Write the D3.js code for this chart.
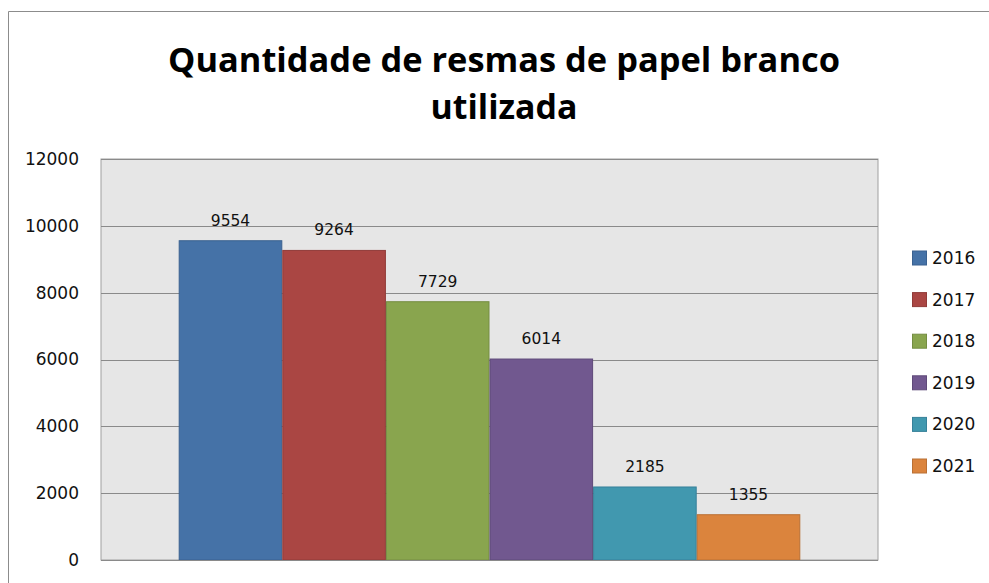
<!DOCTYPE html>
<html>
<head>
<meta charset="utf-8">
<script src="https://cdn.jsdelivr.net/npm/d3@7"></script>
<style>
  body { margin: 0; background: #fff; }
  svg { display: block; }
</style>
</head>
<body>
<script>
const years = ["2016", "2017", "2018", "2019", "2020", "2021"];
const values = [9554, 9264, 7729, 6014, 2185, 1355];
const colors = ["#4572A7", "#AA4643", "#89A54E", "#71588F", "#4198AF", "#DB843D"];
const strokes = ["#3A6190", "#913B38", "#748D42", "#5F4A79", "#37819A", "#BA7034"];
const yTicks = [0, 2000, 4000, 6000, 8000, 10000, 12000];
const titleLines = ["Quantidade de resmas de papel branco", "utilizada"];

const w = 989, h = 583;
const plot = { left: 101, right: 878, top: 159, bottom: 560 };

const svg = d3.select("body").append("svg")
  .attr("width", w)
  .attr("height", h);

// outer chart frame
svg.append("path")
  .attr("d", `M8.5,${h} V11.5 H${w}`)
  .attr("fill", "none")
  .attr("stroke", "#8c8c8c")
  .attr("stroke-width", 1);

// title, two lines
const titleWidths = [672, 147];
titleLines.forEach((line, i) => {
  svg.append("text")
    .attr("x", 504)
    .attr("y", 72 + i * 47)
    .attr("text-anchor", "middle")
    .attr("textLength", titleWidths[i])
    .attr("lengthAdjust", "spacingAndGlyphs")
    .style("font-family", "'Open Sans', sans-serif")
    .style("font-weight", "bold")
    .style("font-size", "34px")
    .attr("fill", "#000")
    .text(line);
});

const yScale = d3.scaleLinear()
  .domain([0, 12000])
  .range([plot.bottom, plot.top]);

const xScale = d3.scaleBand()
  .domain(years)
  .range([plot.left, plot.right])
  .paddingInner(0)
  .paddingOuter(0.75);

// plot background
svg.append("rect")
  .attr("x", plot.left)
  .attr("y", plot.top)
  .attr("width", plot.right - plot.left)
  .attr("height", plot.bottom - plot.top)
  .attr("fill", "#E6E6E6")
  .attr("stroke", "#a0a0a0");

// gridlines
svg.append("g")
  .selectAll("line")
  .data(yTicks)
  .enter()
  .append("line")
  .attr("x1", plot.left)
  .attr("x2", plot.right)
  .attr("y1", d => Math.round(yScale(d)) + 0.5)
  .attr("y2", d => Math.round(yScale(d)) + 0.5)
  .attr("stroke", "#8a8a8a")
  .attr("stroke-width", 1);

// y axis labels
const yAxis = d3.axisLeft(yScale)
  .tickValues(yTicks)
  .tickFormat(d3.format("d"))
  .tickSize(0)
  .tickPadding(22);

svg.append("g")
  .attr("transform", `translate(${plot.left}, 0)`)
  .call(yAxis)
  .call(g => g.select(".domain").remove())
  .call(g => g.selectAll("text")
    .style("font-family", "'DejaVu Sans', sans-serif")
    .style("font-size", "17px")
    .attr("fill", "#111"));

// bars
svg.append("g")
  .selectAll("rect")
  .data(values)
  .enter()
  .append("rect")
  .attr("x", (d, i) => xScale(years[i]) + 0.5)
  .attr("y", d => yScale(d))
  .attr("width", xScale.bandwidth() - 1)
  .attr("height", d => plot.bottom - yScale(d))
  .attr("fill", (d, i) => colors[i])
  .attr("stroke", (d, i) => strokes[i])
  .attr("stroke-width", 1);

// axis line at zero
svg.append("line")
  .attr("x1", plot.left)
  .attr("x2", plot.right)
  .attr("y1", plot.bottom + 0.5)
  .attr("y2", plot.bottom + 0.5)
  .attr("stroke", "#8a8a8a");

// value labels
svg.append("g")
  .selectAll("text")
  .data(values)
  .enter()
  .append("text")
  .attr("x", (d, i) => xScale(years[i]) + xScale.bandwidth() / 2)
  .attr("y", d => yScale(d) - 15)
  .attr("text-anchor", "middle")
  .style("font-family", "'DejaVu Sans', sans-serif")
  .style("font-size", "15.5px")
  .attr("fill", "#111")
  .text(d => d);

// legend
const legend = svg.append("g")
  .attr("transform", "translate(912, 0)");

const legendY = d3.scalePoint()
  .domain(years)
  .range([258, 466]);

years.forEach((yr, i) => {
  legend.append("rect")
    .attr("x", 0.5)
    .attr("y", legendY(yr) - 7)
    .attr("width", 14)
    .attr("height", 14)
    .attr("fill", colors[i])
    .attr("stroke", strokes[i]);

  legend.append("text")
    .attr("x", 20)
    .attr("y", legendY(yr) + 6)
    .style("font-family", "'DejaVu Sans', sans-serif")
    .style("font-size", "17px")
    .attr("fill", "#111")
    .text(yr);
});
</script>
</body>
</html>
